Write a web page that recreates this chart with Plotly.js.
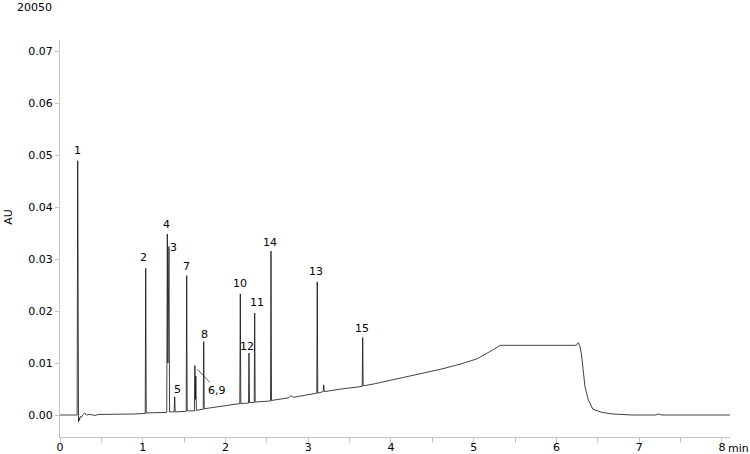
<!DOCTYPE html>
<html>
<head>
<meta charset="utf-8">
<script src="https://cdn.plot.ly/plotly-3.0.1.min.js"></script>
<style>html,body{margin:0;padding:0;background:#fff;}#chart{width:750px;height:454px;}</style>
</head>
<body>
<div id="chart"></div>
<script>
// Chromatogram trace (time in min, absorbance in AU)
var timeMin = [
  0.00, 0.20, 0.207, 0.214, 0.220, 0.224, 0.230, 0.236, 0.245, 0.26, 0.28, 0.30, 0.32, 0.36, 0.40, 0.42, 0.46, 0.52, 0.60, 0.75, 0.90,
  1.030, 1.036, 1.042, 1.20, 1.290, 1.297, 1.304, 1.317, 1.324, 1.380, 1.386, 1.392,
  1.525, 1.531, 1.537, 1.624, 1.630, 1.636, 1.642, 1.648, 1.731, 1.737, 1.743, 2.00,
  2.173, 2.179, 2.185, 2.278, 2.284, 2.290, 2.347, 2.353, 2.359, 2.544, 2.550, 2.556,
  2.76, 2.79, 2.82, 3.103, 3.109, 3.115, 3.14, 3.18, 3.187, 3.195, 3.40, 3.652, 3.658, 3.664,
  3.80, 4.00, 4.20, 4.40, 4.60, 4.84, 5.04, 5.24, 5.32, 5.80, 6.24, 6.263, 6.28, 6.30, 6.32,
  6.345, 6.385, 6.44, 6.55, 6.68, 6.92, 7.20, 7.23, 7.27, 8.097
];
var absorbanceAU = [
  0.0000, 0.0000, 0.0000, 0.0489, 0.0005, -0.0013, -0.0006, -0.0010, -0.0003, -0.0004, 0.0001, 0.0004, 0.0000, 0.0001, 0.0000, -0.0001, 0.0001, 0.0001, 0.0001, 0.0002, 0.0002,
  0.0003, 0.0282, 0.0004, 0.0005, 0.0005, 0.0348, 0.0100, 0.0324, 0.0006, 0.0006, 0.0035, 0.0006,
  0.0007, 0.0268, 0.0008, 0.0008, 0.0095, 0.0030, 0.0075, 0.0009, 0.0011, 0.0141, 0.0012, 0.0018,
  0.0022, 0.0233, 0.0022, 0.0023, 0.0119, 0.0024, 0.0024, 0.0196, 0.0025, 0.0027, 0.0315, 0.0028,
  0.0033, 0.0037, 0.0034, 0.0042, 0.0256, 0.0042, 0.0043, 0.0045, 0.0058, 0.0045, 0.0050, 0.0055, 0.0149, 0.0056,
  0.0060, 0.0067, 0.0073, 0.0080, 0.0088, 0.0098, 0.0108, 0.0126, 0.0134, 0.0134, 0.0134, 0.0139, 0.0134, 0.0119, 0.0085,
  0.0054, 0.0029, 0.0011, 0.0005, 0.0002, 0.0000, 0.0000, 0.0002, 0.0000, 0.0000
];

// Peak labels and their apex positions
var peakLabels = ["1", "2", "4", "3", "7", "5", "8", "10", "12", "11", "14", "13", "15"];
var peakTimes  = [0.214, 1.036, 1.297, 1.317, 1.531, 1.386, 1.737, 2.179, 2.284, 2.353, 2.550, 3.109, 3.658];
var peakHeights = [0.0489, 0.0282, 0.0348, 0.0324, 0.0268, 0.0035, 0.0141, 0.0233, 0.0119, 0.0196, 0.0315, 0.0256, 0.0149];
var labelShiftX = [0, -2, -1, 4.5, 0, 3, 1, 0, -1.5, 2, -1, -1, -1];
var labelShiftY = [10, 11, 10, -1, 9, 7, 7, 10, 7, 11, 9, 10, 9];

// Co-eluting pair label with leader
var pairLabel = "6,9";
var pairTime = 1.66;
var pairHeight = 0.0088;

var FONT = "DejaVu Sans";
var AXC = "#c4c4c4";

var annotations = peakLabels.map(function (lab, i) {
  return {
    text: lab, x: peakTimes[i], y: peakHeights[i], xref: "x", yref: "y",
    showarrow: false, xshift: labelShiftX[i], yshift: labelShiftY[i],
    xanchor: "center", yanchor: "middle",
    font: {family: FONT, size: 11, color: "#000"}
  };
});
annotations.push({
  text: pairLabel, x: pairTime, y: pairHeight, xref: "x", yref: "y",
  showarrow: true, arrowhead: 0, arrowwidth: 0.8, arrowcolor: "#333",
  ax: 20, ay: 21, standoff: 0,
  font: {family: FONT, size: 11, color: "#000"}
});
annotations.push({
  text: "20050", xref: "paper", yref: "paper", x: -0.0388, y: 1.083,
  showarrow: false, xanchor: "center", yanchor: "middle",
  font: {family: FONT, size: 11, color: "#000"}
});
annotations.push({
  text: "AU", xref: "paper", yref: "paper", x: -0.077, y: 0.556, textangle: -90,
  showarrow: false, xanchor: "center", yanchor: "middle",
  font: {family: FONT, size: 11, color: "#000"}
});
annotations.push({
  text: "min", xref: "paper", yref: "paper", x: 1.0134, y: -0.008,
  showarrow: false, xanchor: "center", yanchor: "top",
  font: {family: FONT, size: 11, color: "#000"}
});

var trace = {
  x: timeMin, y: absorbanceAU, type: "scatter", mode: "lines",
  line: {color: "#111", width: 0.8}, hoverinfo: "skip"
};

var layout = {
  width: 750, height: 454,
  margin: {l: 60, r: 20, t: 40, b: 17, pad: 0},
  paper_bgcolor: "#fff", plot_bgcolor: "#fff",
  showlegend: false,
  font: {family: FONT, size: 11, color: "#000"},
  xaxis: {
    range: [0, 8.097], tick0: 0, dtick: 1, showgrid: false, zeroline: false,
    showline: true, linecolor: AXC, linewidth: 1,
    ticks: "outside", ticklen: 5, tickcolor: AXC, tickwidth: 1,
    ticklabelstandoff: -5,
    minor: {dtick: 0.5, tick0: 0, ticks: "outside", ticklen: 5, tickcolor: AXC, showgrid: false},
    tickfont: {family: FONT, size: 11, color: "#000"}
  },
  yaxis: {
    range: [-0.00423, 0.07212], tick0: 0, dtick: 0.01, tickformat: ".2f",
    showgrid: false, zeroline: false,
    showline: true, linecolor: AXC, linewidth: 1,
    ticks: "outside", ticklen: 4, tickcolor: AXC, tickwidth: 1,
    tickfont: {family: FONT, size: 11, color: "#000"}
  },
  annotations: annotations
};

Plotly.newPlot("chart", [trace], layout, {displayModeBar: false, staticPlot: true});
</script>
</body>
</html>
